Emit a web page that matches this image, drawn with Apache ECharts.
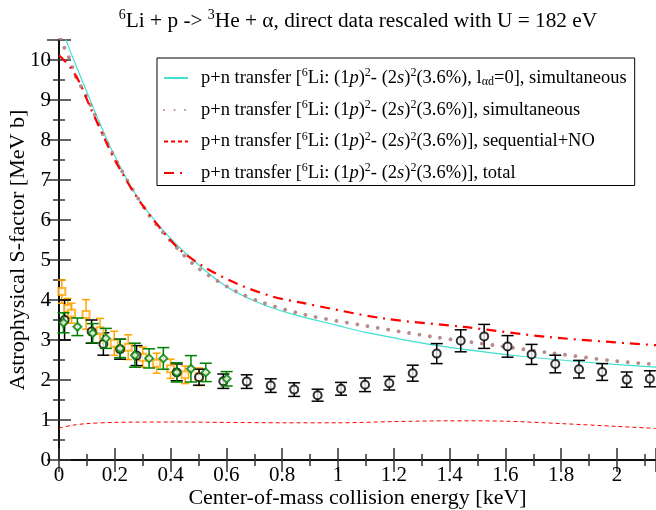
<!DOCTYPE html>
<html>
<head>
<meta charset="utf-8">
<script src="https://cdn.jsdelivr.net/npm/echarts@6/dist/echarts.min.js"></script>
<style>
  html, body { margin: 0; padding: 0; background: #fff; }
  #main { width: 656px; height: 510px; }
</style>
</head>
<body>
<div id="main"></div>
<script>
var FONT = 'Liberation Serif';

// tick labels
var xTickLabels = ['0', '0.2', '0.4', '0.6', '0.8', '1', '1.2', '1.4', '1.6', '1.8', '2'];
var yTickLabels = ['0', '1', '2', '3', '4', '5', '6', '7', '8', '9', '10'];

// p+n transfer, l_ad=0, simultaneous (cyan)
var cyanX = [0, 0.025, 0.05, 0.1, 0.141, 0.195, 0.272, 0.362, 0.481, 0.601, 0.72, 0.84, 1.0, 1.1, 1.34, 1.65, 1.88, 2.14];
var cyanY = [10.95, 10.5, 10.05, 9.2, 8.5, 7.67, 6.67, 5.83, 5.0, 4.33, 3.92, 3.64, 3.36, 3.19, 2.88, 2.6, 2.45, 2.32];

// p+n transfer, simultaneous (dotted)
var dotX = [0.005, 0.019, 0.036, 0.061, 0.099, 0.131, 0.159, 0.23, 0.314, 0.386, 0.493, 0.625, 0.732, 0.882, 1.103, 1.342, 1.58, 1.76, 2.0, 2.14];
var dotY = [10.55, 10.31, 10.06, 9.58, 9.08, 8.58, 8.125, 7.17, 6.21, 5.58, 4.83, 4.25, 3.93, 3.63, 3.35, 3.08, 2.85, 2.68, 2.47, 2.39];

// p+n transfer, sequential+NO (thin dashed)
var seqX = [0, 0.05, 0.1, 0.2, 0.4, 0.6, 0.8, 1.0, 1.2, 1.4, 1.6, 1.8, 2.0, 2.14];
var seqY = [0.8, 0.87, 0.91, 0.94, 0.95, 0.94, 0.93, 0.93, 0.96, 0.98, 0.97, 0.91, 0.84, 0.79];

// p+n transfer, total (dash-dot)
var totX = [0, 0.039, 0.075, 0.11, 0.159, 0.2, 0.29, 0.422, 0.529, 0.649, 0.768, 0.864, 1.162, 1.461, 1.76, 2.14];
var totY = [10.12, 9.83, 9.42, 8.85, 8.1, 7.5, 6.46, 5.33, 4.79, 4.375, 4.08, 3.94, 3.54, 3.32, 3.07, 2.87];

// direct data (black circles)
var blackX = [0.02, 0.117, 0.159, 0.219, 0.278, 0.422, 0.502, 0.589, 0.673, 0.759, 0.843, 0.927, 1.011, 1.097, 1.184, 1.268, 1.354, 1.44, 1.524, 1.608, 1.694, 1.779, 1.864, 1.947, 2.035, 2.118];
var blackY = [3.5, 3.21, 2.9, 2.77, 2.61, 2.19, 2.07, 1.97, 1.96, 1.86, 1.76, 1.62, 1.78, 1.88, 1.92, 2.17, 2.66, 2.98, 3.09, 2.84, 2.64, 2.4, 2.27, 2.2, 2.01, 2.03];
var blackErr = [0.5, 0.29, 0.28, 0.25, 0.25, 0.21, 0.2, 0.18, 0.17, 0.17, 0.17, 0.15, 0.16, 0.17, 0.17, 0.2, 0.25, 0.275, 0.3, 0.27, 0.25, 0.22, 0.22, 0.21, 0.19, 0.2];

// direct data (orange squares)
var orangeX = [0.01, 0.031, 0.045, 0.097, 0.147, 0.198, 0.248, 0.3, 0.35, 0.4, 0.452, 0.502];
var orangeY = [4.21, 3.79, 3.67, 3.64, 3.23, 2.92, 2.82, 2.57, 2.42, 2.28, 2.13, 2.08];
var orangeErr = [0.29, 0.25, 0.25, 0.37, 0.31, 0.3, 0.31, 0.25, 0.25, 0.24, 0.22, 0.22];

// direct data (green diamonds)
var greenX = [0.016, 0.066, 0.121, 0.168, 0.219, 0.272, 0.323, 0.374, 0.422, 0.473, 0.526, 0.601];
var greenY = [3.43, 3.33, 3.17, 3.04, 2.79, 2.62, 2.54, 2.54, 2.19, 2.28, 2.19, 2.03];
var greenErr = [0.25, 0.22, 0.24, 0.25, 0.23, 0.3, 0.24, 0.27, 0.24, 0.33, 0.23, 0.18];

function zip(xs, ys, es) {
    return xs.map(function (x, i) {
        return es ? [x, ys[i], es[i]] : [x, ys[i]];
    });
}

function errorBars(color, capHalf) {
    return function (params, api) {
        var x = api.value(0), y = api.value(1), e = api.value(2);
        var lo = api.coord([x, y - e]);
        var hi = api.coord([x, y + e]);
        var st = { stroke: color, lineWidth: 1.5 };
        return {
            type: 'group',
            children: [
                { type: 'line', shape: { x1: lo[0], y1: lo[1], x2: hi[0], y2: hi[1] }, style: st },
                { type: 'line', shape: { x1: lo[0] - capHalf, y1: lo[1], x2: lo[0] + capHalf, y2: lo[1] }, style: st },
                { type: 'line', shape: { x1: hi[0] - capHalf, y1: hi[1], x2: hi[0] + capHalf, y2: hi[1] }, style: st }
            ]
        };
    };
}

function tickLabel(list) {
    return function (v) {
        for (var i = 0; i < list.length; i++) {
            if (Math.abs(Number(list[i]) - v) < 1e-6) return list[i];
        }
        return '';
    };
}

var legendNames = {
    cyan: 'p+n transfer [{s|6}Li: (1{i|p}){s|2}- (2{i|s}){s|2}(3.6%), l{b|αd}=0], simultaneous',
    dot: 'p+n transfer [{s|6}Li: (1{i|p}){s|2}- (2{i|s}){s|2}(3.6%)], simultaneous',
    seq: 'p+n transfer [{s|6}Li: (1{i|p}){s|2}- (2{i|s}){s|2}(3.6%)], sequential+NO',
    tot: 'p+n transfer [{s|6}Li: (1{i|p}){s|2}- (2{i|s}){s|2}(3.6%)], total'
};

var richText = {
    s: { fontFamily: FONT, fontSize: 12, color: '#000', padding: [0, 0, 10, 0] },
    b: { fontFamily: FONT, fontSize: 12, color: '#000', padding: [8, 0, 0, 0] },
    i: { fontFamily: FONT, fontSize: 18.5, fontStyle: 'italic', color: '#000' }
};

var axisCommon = {
    type: 'value',
    axisLine: { show: true, lineStyle: { color: '#000', width: 1.5 } },
    axisTick: { show: true, inside: true, length: 12, lineStyle: { color: '#333', width: 1.5 } },
    minorTick: { show: true, splitNumber: 2, length: 6, lineStyle: { color: '#333', width: 1.5 } },
    splitLine: { show: false },
    minorSplitLine: { show: false }
};

var myChart = echarts.init(document.getElementById('main'));
var option = {
    backgroundColor: '#fff',
    animation: false,
    title: {
        text: '{s|6}Li + p -> {s|3}He + α, direct data rescaled with U = 182 eV',
        left: 353,
        textAlign: 'center',
        top: 3,
        textStyle: {
            fontFamily: FONT, fontSize: 21.3, fontWeight: 'normal', color: '#000',
            rich: {
                s: { fontFamily: FONT, fontSize: 14, color: '#000', padding: [0, 0, 12, 0] }
            }
        }
    },
    grid: { left: 59, right: 0, top: 40, bottom: 50, outerBoundsMode: 'none', containLabel: false },
    legend: {
        orient: 'vertical',
        left: 157,
        top: 58,
        padding: [9, 8, 3, 6],
        itemGap: 11,
        itemWidth: 24,
        itemHeight: 14,
        borderColor: '#000',
        borderWidth: 1,
        backgroundColor: '#fff',
        itemStyle: { opacity: 0 },
        data: ['cyan', 'dot', 'seq', 'tot'],
        formatter: function (name) { return legendNames[name]; },
        textStyle: {
            fontFamily: FONT, fontSize: 18.5, color: '#000',
            padding: [0, 0, 0, 8],
            rich: richText
        }
    },
    xAxis: [
        Object.assign({}, axisCommon, {
            min: 0, max: 2.14, interval: 0.2, position: 'bottom',
            axisLabel: { formatter: tickLabel(xTickLabels), fontFamily: FONT, fontSize: 21, color: '#000', margin: 5 },
            name: 'Center-of-mass collision energy [keV]',
            nameLocation: 'middle',
            nameGap: 27,
            nameMoveOverlap: false,
            nameTextStyle: { fontFamily: FONT, fontSize: 22, color: '#000' }
        }),
        Object.assign({}, axisCommon, {
            min: 0, max: 2.14, interval: 0.2, position: 'top',
            axisLabel: { show: false }
        })
    ],
    yAxis: [
        Object.assign({}, axisCommon, {
            min: 0, max: 10.5, interval: 1, position: 'left',
            axisLabel: { formatter: tickLabel(yTickLabels), fontFamily: FONT, fontSize: 21, color: '#000', margin: 8 },
            name: 'Astrophysical S-factor [MeV b]',
            nameLocation: 'middle',
            nameGap: 30,
            nameMoveOverlap: false,
            nameTextStyle: { fontFamily: FONT, fontSize: 22, color: '#000' }
        }),
        Object.assign({}, axisCommon, {
            min: 0, max: 10.5, interval: 1, position: 'right',
            axisLabel: { show: false }
        })
    ],
    series: [
        {
            name: 'cyan', type: 'line', data: zip(cyanX, cyanY), showSymbol: false, symbol: 'none',
            smooth: 0.3, z: 3,
            lineStyle: { color: '#40e0d0', width: 1.2 }, itemStyle: { color: '#40e0d0' }
        },
        {
            name: 'dot', type: 'line', data: zip(dotX, dotY), showSymbol: false, symbol: 'none',
            smooth: 0.3, z: 3,
            lineStyle: { color: '#b88a8a', width: 3.8, type: [0.01, 10.5], cap: 'round' }, itemStyle: { color: '#b88a8a' }
        },
        {
            name: 'seq', type: 'line', data: zip(seqX, seqY), showSymbol: false, symbol: 'none',
            smooth: 0.3, z: 3,
            lineStyle: { color: '#ff0000', width: 1, type: [4, 3] }, itemStyle: { color: '#ff0000' }
        },
        {
            name: 'tot', type: 'line', data: zip(totX, totY), showSymbol: false, symbol: 'none',
            smooth: 0.3, z: 3,
            lineStyle: { color: '#ff0000', width: 2.2, type: [10, 6, 2, 6] }, itemStyle: { color: '#ff0000' }
        },
        {
            type: 'custom', renderItem: errorBars('#ffa500', 4), data: zip(orangeX, orangeY, orangeErr),
            encode: { x: 0, y: 1 }, z: 4, silent: true
        },
        {
            type: 'scatter', data: zip(orangeX, orangeY), symbol: 'emptyRect', symbolSize: 7, z: 5,
            itemStyle: { color: '#ffa500', borderColor: '#ffa500', borderWidth: 1.3 }
        },
        {
            type: 'custom', renderItem: errorBars('#000000', 6), data: zip(blackX, blackY, blackErr),
            encode: { x: 0, y: 1 }, z: 4, silent: true
        },
        {
            type: 'scatter', data: zip(blackX, blackY), symbol: 'emptyCircle', symbolSize: 8, z: 5,
            itemStyle: { color: '#000', borderColor: '#000', borderWidth: 1.3 }
        },
        {
            type: 'custom', renderItem: errorBars('#008000', 6), data: zip(greenX, greenY, greenErr),
            encode: { x: 0, y: 1 }, z: 6, silent: true
        },
        {
            type: 'scatter', data: zip(greenX, greenY), symbol: 'emptyDiamond', symbolSize: 8, z: 7,
            itemStyle: { color: '#008000', borderColor: '#008000', borderWidth: 1.3 }
        }
    ]
};
myChart.setOption(option);
</script>
</body>
</html>
